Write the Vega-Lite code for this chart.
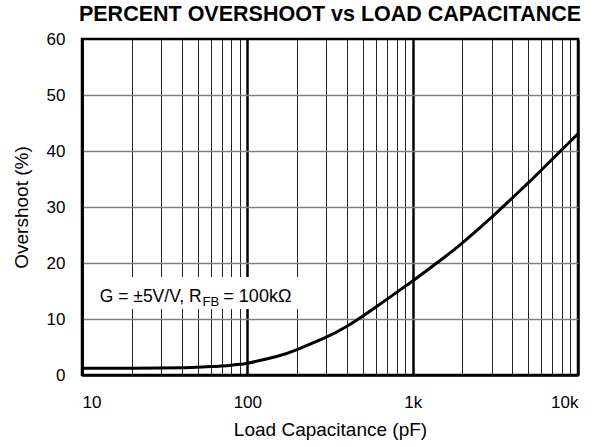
{
  "$schema": "https://vega.github.io/schema/vega-lite/v6.json",
  "width": 496,
  "height": 336,
  "autosize": {"type": "none"},
  "padding": {"left": 82, "top": 39, "right": 25, "bottom": 72},
  "background": "white",
  "title": {
    "text": "PERCENT OVERSHOOT vs LOAD CAPACITANCE",
    "fontSize": 21.5,
    "font": "Liberation Sans",
    "fontWeight": "bold",
    "anchor": "middle",
    "offset": 5,
    "color": "black"
  },
  "config": {
    "view": {"stroke": "black", "strokeWidth": 2.5},
    "font": "Liberation Sans"
  },
  "layer": [
    {
      "data": {
        "values": [
          {"C": 10, "overshoot": 1.2},
          {"C": 20, "overshoot": 1.2},
          {"C": 30, "overshoot": 1.25},
          {"C": 40, "overshoot": 1.3},
          {"C": 50, "overshoot": 1.4},
          {"C": 60, "overshoot": 1.5},
          {"C": 70, "overshoot": 1.62},
          {"C": 80, "overshoot": 1.76},
          {"C": 90, "overshoot": 1.92},
          {"C": 100, "overshoot": 2.1},
          {"C": 150, "overshoot": 3.3},
          {"C": 200, "overshoot": 4.55},
          {"C": 300, "overshoot": 6.75},
          {"C": 400, "overshoot": 8.7},
          {"C": 500, "overshoot": 10.55},
          {"C": 600, "overshoot": 12.15},
          {"C": 700, "overshoot": 13.55},
          {"C": 800, "overshoot": 14.75},
          {"C": 900, "overshoot": 15.85},
          {"C": 1000, "overshoot": 16.8},
          {"C": 1500, "overshoot": 20.67},
          {"C": 2000, "overshoot": 23.6},
          {"C": 3000, "overshoot": 28.15},
          {"C": 4000, "overshoot": 31.6},
          {"C": 5000, "overshoot": 34.3},
          {"C": 6000, "overshoot": 36.6},
          {"C": 7000, "overshoot": 38.55},
          {"C": 8000, "overshoot": 40.25},
          {"C": 9000, "overshoot": 41.75},
          {"C": 10000, "overshoot": 43.05}
        ]
      },
      "mark": {"type": "line", "color": "black", "strokeWidth": 3, "interpolate": "natural"},
      "encoding": {
        "x": {
          "field": "C",
          "type": "quantitative",
          "scale": {"type": "log", "domain": [10, 10000], "nice": false},
          "axis": {
            "values": [10, 20, 30, 40, 50, 60, 70, 80, 90, 100, 200, 300, 400, 500, 600, 700, 800, 900, 1000, 2000, 3000, 4000, 5000, 6000, 7000, 8000, 9000, 10000],
            "labelExpr": "datum.value === 10 ? '10' : datum.value === 100 ? '100' : datum.value === 1000 ? '1k' : datum.value === 10000 ? '10k' : ''",
            "labelOverlap": false,
            "labelFontSize": 17,
            "labelColor": "black",
            "labelPadding": 19,
            "ticks": false,
            "tickSize": 0,
            "domain": true,
            "domainColor": "black",
            "domainWidth": 2.5,
            "grid": true,
            "gridColor": {"condition": {"test": "indexof([10,100,1000,10000], datum.value) >= 0", "value": "black"}, "value": "#222222"},
            "gridWidth": {"condition": {"test": "indexof([10,100,1000,10000], datum.value) >= 0", "value": 2.5}, "value": 1},
            "title": "Load Capacitance (pF)",
            "titleFontSize": 19,
            "titleFontWeight": "normal",
            "titleColor": "black",
            "titlePadding": 10
          }
        },
        "y": {
          "field": "overshoot",
          "type": "quantitative",
          "scale": {"domain": [0, 60], "nice": false},
          "axis": {
            "values": [0, 10, 20, 30, 40, 50, 60],
            "labelFontSize": 17,
            "labelColor": "black",
            "labelPadding": 17,
            "ticks": false,
            "tickSize": 0,
            "domain": true,
            "domainColor": "black",
            "domainWidth": 2.5,
            "grid": true,
            "gridColor": "#808080",
            "gridWidth": 1.5,
            "gridOpacity": {"condition": {"test": "datum.value === 0 || datum.value === 60", "value": 0}, "value": 1},
            "title": "Overshoot (%)",
            "titleFontSize": 19,
            "titleFontWeight": "normal",
            "titleColor": "black",
            "titlePadding": 15
          }
        }
      }
    },
    {
      "data": {"values": [{"C": 12, "C2": 220, "overshoot": 11.8, "overshoot2": 17.5}]},
      "mark": {"type": "rect", "fill": "white", "stroke": null},
      "encoding": {
        "x": {"field": "C", "type": "quantitative"},
        "x2": {"field": "C2"},
        "y": {"field": "overshoot", "type": "quantitative"},
        "y2": {"field": "overshoot2"}
      }
    },
    {
      "data": {"values": [{"C": 12.8, "overshoot": 13.05, "label": "G = ±5V/V, R"}]},
      "mark": {"type": "text", "align": "left", "baseline": "alphabetic", "fontSize": 17.5, "color": "black"},
      "encoding": {
        "x": {"field": "C", "type": "quantitative"},
        "y": {"field": "overshoot", "type": "quantitative"},
        "text": {"field": "label"}
      }
    },
    {
      "data": {"values": [{"C": 53.6, "overshoot": 12.4, "label": "FB"}]},
      "mark": {"type": "text", "align": "left", "baseline": "alphabetic", "fontSize": 13, "color": "black"},
      "encoding": {
        "x": {"field": "C", "type": "quantitative"},
        "y": {"field": "overshoot", "type": "quantitative"},
        "text": {"field": "label"}
      }
    },
    {
      "data": {"values": [{"C": 71.6, "overshoot": 13.05, "label": "= 100kΩ"}]},
      "mark": {"type": "text", "align": "left", "baseline": "alphabetic", "fontSize": 18, "color": "black"},
      "encoding": {
        "x": {"field": "C", "type": "quantitative"},
        "y": {"field": "overshoot", "type": "quantitative"},
        "text": {"field": "label"}
      }
    }
  ]
}
